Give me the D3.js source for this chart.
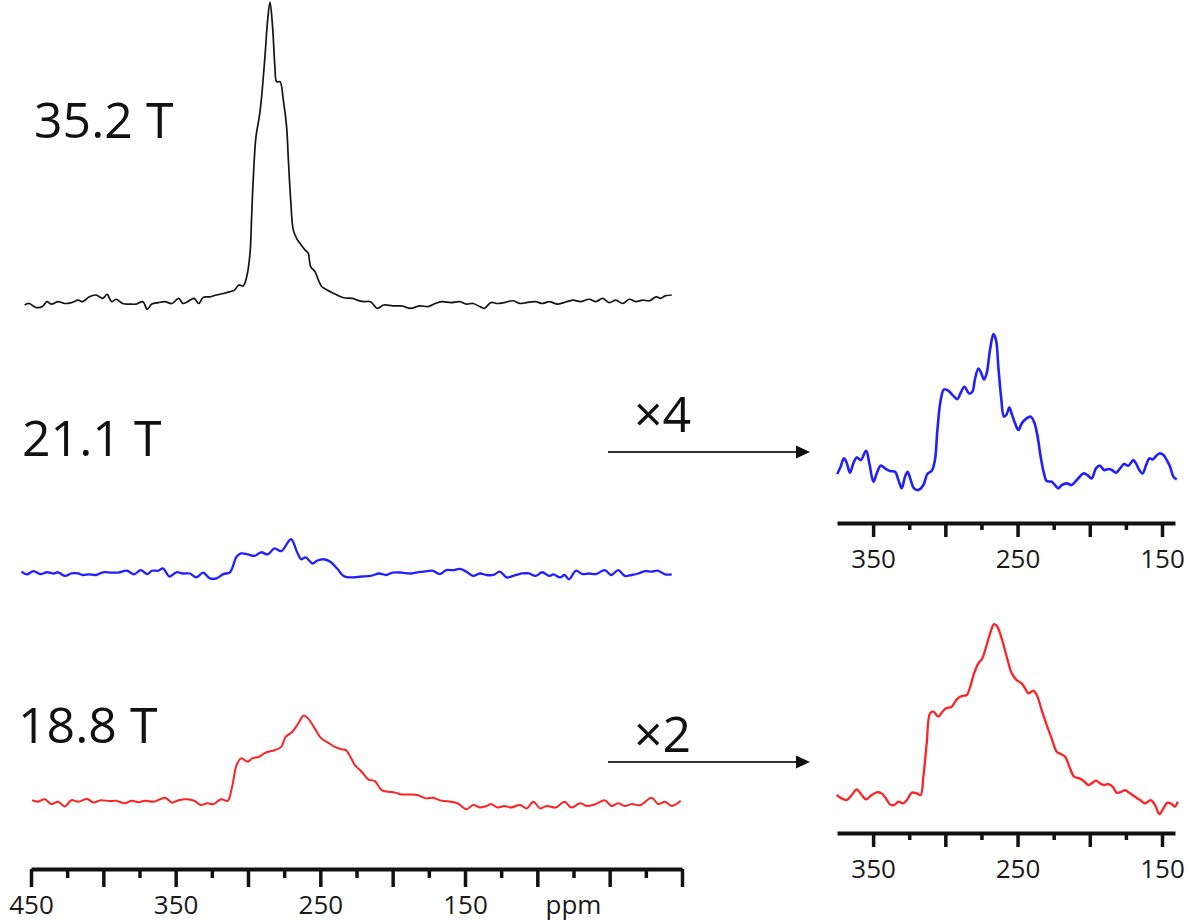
<!DOCTYPE html>
<html>
<head>
<meta charset="utf-8">
<script src="https://cdn.jsdelivr.net/npm/d3@7"></script>
<style>
  body { margin: 0; background: #fff; }
  text { font-family: "Open Sans", sans-serif; }
</style>
</head>
<body>
<svg id="chart" width="1200" height="923"></svg>
<script>
// spectra as [ppm, intensity]; intensity in units where the 35.2 T peak = 100
var black = [
  [454.4,0],[451.3,0.5],[446.7,-0.8],[442.1,-0.5],[439.0,1.1],[435.9,0.3],[431.3,1.1],[426.7,0.5],
  [422.0,0.8],[417.4,1.6],[414.3,1.1],[409.7,2.7],[405.1,3.3],[400.4,2.2],[397.4,3.5],[394.3,1.1],
  [391.2,1.9],[386.6,0.5],[381.9,0.3],[377.3,0.3],[372.7,1.1],[369.6,-1.4],[366.5,0.3],[361.9,0.8],
  [357.3,1.1],[352.6,0.5],[348.0,2.2],[344.9,0.5],[341.8,1.1],[337.2,2.2],[334.1,0.5],[331.0,2.5],
  [326.4,2.7],[321.8,3.3],[317.1,3.8],[312.5,4.4],[309.4,4.9],[306.4,6.6],[303.3,6.3],[300.9,9.3],
  [298.6,17.1],[297.5,29.1],[296.4,41.3],[294.5,55.5],[292.2,62.1],[290.6,68.7],[288.3,81.9],
  [286.4,94.1],[284.8,100],[283.0,91.8],[281.4,78.6],[280.2,73.7],[277.9,73.7],[275.6,67.7],
  [273.3,58.8],[272.2,48.9],[270.5,34.7],[268.7,24.8],[266.4,22.0],[264.1,20.4],[260.6,18.2],
  [258.4,17.1],[256.7,12.7],[253.7,11.0],[251.4,8.3],[249.1,6.1],[245.6,5.0],[241.1,3.9],[238.5,3.3],
  [233.9,2.4],[227.7,2.2],[224.6,1.6],[220.0,1.1],[215.3,1.1],[210.7,-1.1],[206.1,0],[199.9,-0.3],
  [193.8,-0.3],[187.6,-1.1],[181.4,-0.3],[175.2,-0.5],[170.6,0.5],[166.0,1.1],[159.8,0.8],[153.6,1.1],
  [149.0,0.3],[144.4,0.5],[139.8,-0.5],[136.7,-1.1],[132.1,0.8],[127.4,0.5],[122.8,0.8],[116.6,1.4],
  [112.0,0.5],[107.4,0.8],[101.2,1.1],[96.6,0.5],[91.9,1.1],[85.8,0.3],[79.6,1.1],[75.0,1.6],
  [70.3,1.1],[64.2,1.9],[59.5,1.1],[55.0,2.2],[50.3,0.8],[45.7,1.6],[41.0,0.5],[36.4,1.9],
  [31.8,1.1],[27.2,1.6],[22.5,1.4],[17.9,2.7],[14.8,2.2],[11.7,3.0],[7.1,3.3]
];

var blueMain = [
  [456.6,1.1],[452.9,0.2],[448.3,1.3],[443.6,0.3],[439.0,0.9],[434.4,0.5],[431.3,0.9],[426.7,-0.3],
  [422.0,0.5],[417.4,0.5],[414.3,0],[409.7,0.2],[405.1,0],[400.4,0.9],[394.3,0.8],[389.6,0.8],
  [383.5,1.4],[378.9,0.2],[374.2,1.6],[369.6,0.3],[366.5,1.4],[361.9,1.4],[358.8,2.2],[354.2,-0.5],
  [349.5,0.9],[345.0,0.5],[340.3,0.5],[335.7,-0.8],[331.0,0.8],[326.4,-1.1],[321.8,-1.1],[317.1,0.3],
  [312.5,0.9],[307.9,6.0],[304.8,7.1],[300.2,6.8],[295.6,6.3],[290.9,7.5],[286.3,6.8],[281.7,8.8],
  [277.0,7.9],[270.3,11.8],[266.2,7.7],[263.2,5.2],[260.1,5.8],[255.4,3.8],[252.4,4.7],[247.7,5.2],
  [243.1,4.4],[238.5,2.2],[233.9,-0.3],[227.7,-0.8],[221.5,-0.5],[215.3,-0.3],[209.2,0.5],[204.5,0],
  [200.0,0.8],[193.8,0.8],[187.6,0.5],[183.0,0.9],[178.3,1.1],[172.2,1.4],[167.5,0.3],[162.9,1.6],
  [158.3,1.6],[153.6,2.0],[149.0,1.1],[144.4,-0.3],[139.8,0.5],[135.1,0],[130.5,0],[125.9,1.1],
  [121.2,-0.8],[116.6,-0.3],[110.5,0.5],[105.8,0.5],[101.2,-0.3],[96.6,0.9],[91.9,-0.3],[88.9,0.2],
  [84.2,-0.8],[81.2,0],[78.1,-1.4],[73.4,1.4],[68.8,0.3],[64.2,0.5],[59.5,0.3],[53.4,1.6],
  [48.8,0],[44.1,1.6],[39.5,-0.3],[34.9,0],[30.2,0.5],[25.6,1.3],[21.0,1.1],[16.4,1.4],
  [11.7,0.2],[7.1,0.2]
];

var redMain = [
  [449.2,0.5],[445.2,0],[440.5,0.8],[435.9,-0.8],[431.3,0],[426.7,-1.6],[422.0,0.5],[417.4,0],
  [411.2,0.9],[406.6,-0.3],[402.0,0.5],[395.8,0.2],[391.2,0.3],[385.0,-0.5],[380.4,0.3],[375.8,-0.2],
  [371.1,0.3],[365.0,0],[357.3,1.3],[352.6,-0.3],[348.0,0.5],[341.8,0.8],[337.2,0.3],[332.6,-1.1],
  [328.0,-0.5],[323.9,-0.8],[318.7,0.8],[314.1,0.3],[311.0,4.9],[307.9,12.1],[304.8,14.3],[300.2,13.2],
  [297.1,14.3],[292.5,14.8],[287.8,16.2],[281.7,17.0],[277.0,18.1],[274.0,21.4],[269.3,23.1],
  [265.3,25.8],[261.6,28.4],[258.5,27.5],[253.9,24.2],[249.3,20.9],[244.7,19.5],[240.0,18.1],
  [235.4,17.3],[232.3,17.0],[229.2,14.8],[226.1,12.1],[221.5,9.9],[216.9,7.4],[212.3,6.8],[207.6,3.8],
  [203.0,3.3],[198.4,3.0],[193.8,2.4],[187.6,2.4],[183.0,2.2],[176.8,1.1],[172.2,1.3],[166.0,0.3],
  [159.8,0],[155.2,-0.5],[149.0,-2.5],[144.4,-1.1],[139.8,-1.9],[135.1,-1.4],[132.1,-0.8],[127.4,-1.9],
  [122.8,-1.4],[118.2,-1.9],[112.0,-1.1],[107.4,-2.2],[102.7,0],[98.1,-2.2],[93.5,-1.4],[87.3,-1.9],
  [81.2,0],[76.5,-1.9],[70.3,-0.5],[65.7,-1.4],[59.5,-0.8],[53.4,0.5],[48.8,-1.4],[44.1,-0.5],
  [39.5,-1.4],[34.9,-0.8],[28.7,-1.1],[21.0,1.3],[16.4,-0.8],[11.7,0],[7.1,-1.4],[0.9,0.3]
];

var blueInset = [
  [374.8,0.22],[372.5,0.82],[370.2,1.51],[368.3,1.15],[366.0,0.33],[363.7,1.10],[361.4,1.59],
  [358.6,1.37],[354.9,2.14],[352.6,1.10],[349.8,-0.41],[347.5,0.27],[344.8,0.91],[341.8,0.69],
  [338.3,0.47],[334.8,0.41],[332.5,-0.27],[330.2,-0.96],[327.9,0],[326.1,0.41],[324.0,-0.27],
  [321.7,-0.96],[318.7,-1.10],[315.2,-0.69],[312.5,0.22],[309.4,0.49],[307.2,1.37],[305.5,3.85],
  [303.2,6.32],[300.9,7.20],[297.9,7.09],[294.9,6.73],[291.7,6.40],[289.8,6.81],[286.8,7.42],
  [283.6,6.87],[281.3,7.01],[279.4,8.10],[277.1,8.93],[275.5,8.65],[273.2,8.02],[271.4,8.52],
  [269.1,10.44],[266.7,11.76],[264.9,11.26],[263.3,9.07],[261.4,6.59],[259.4,4.95],[257.5,5.16],
  [255.7,5.71],[254.1,5.22],[251.7,4.40],[249.4,3.85],[247.1,4.40],[243.7,4.81],[240.9,4.95],
  [238.6,4.53],[236.3,3.43],[234.0,1.65],[231.7,0.27],[229.8,-0.36],[226.4,-0.41],[224.1,-0.69],
  [221.7,-0.96],[219.4,-0.69],[216.0,-0.55],[212.5,-0.69],[209.0,-0.27],[204.4,0.27],[201.7,0.14],
  [198.7,-0.14],[195.7,0.69],[192.9,0.91],[190.1,0.55],[187.1,0.63],[184.8,0.55],[181.8,0.33],
  [179.0,0.69],[176.3,1.04],[173.3,0.91],[169.8,1.37],[168.0,1.10],[165.7,0.55],[163.4,0.27],
  [161.0,0.96],[158.7,1.51],[156.4,1.43],[154.1,1.70],[151.8,1.92],[149.0,1.79],[146.7,1.37],
  [144.4,0.82],[142.1,0],[139.8,-0.22]
];

var redInset = [
  [375.2,0.28],[371.8,-0.28],[368.3,-0.55],[364.8,0.28],[361.4,1.21],[357.9,0.28],[354.9,-0.44],
  [351.0,0.28],[347.5,0.72],[344.1,0.55],[341.1,-0.28],[338.3,-1.27],[335.5,-1.38],[332.5,-0.83],
  [329.1,-1.10],[326.3,-0.44],[323.3,0.66],[319.8,0.55],[317.1,0.28],[315.2,3.30],[312.9,8.80],
  [310.6,13.75],[308.3,14.03],[304.8,13.20],[302.5,13.86],[299.5,14.58],[295.6,14.85],[292.1,16.06],
  [288.7,16.61],[285.2,16.78],[282.9,18.04],[280.1,20.35],[277.1,22.00],[274.4,22.83],[271.4,25.03],
  [268.6,27.23],[266.3,28.49],[264.0,28.05],[261.0,26.13],[257.5,23.10],[254.0,20.35],[250.6,19.25],
  [247.1,18.70],[244.8,17.88],[242.5,17.05],[239.1,17.49],[236.7,16.78],[233.3,14.30],[229.8,11.83],
  [226.4,9.63],[222.9,7.43],[220.1,7.04],[217.1,6.60],[213.7,4.68],[210.9,3.30],[207.2,3.03],
  [204.4,2.64],[201.0,1.93],[198.7,2.20],[195.7,2.64],[192.9,2.20],[190.1,1.93],[187.1,2.09],
  [184.1,1.65],[181.4,0.66],[177.9,0.83],[175.6,1.10],[172.1,0.55],[168.7,0],[165.2,-0.55],
  [161.7,-1.10],[157.8,-0.55],[154.8,-1.38],[151.8,-2.86],[149.0,-1.93],[146.3,-0.99],[143.3,-1.21],
  [141.0,-1.65],[139.1,-0.83]
];

var fieldLabels = ["35.2 T", "21.1 T", "18.8 T"];
var zoomLabels = ["\u00d74", "\u00d72"];
var zoomFactors = [4, 2];

var mainMajor = [450, 400, 350, 300, 250, 200, 150, 100, 50, 0];
var mainMinor = [425, 375, 325, 275, 225, 175, 125, 75, 25];
var mainLabels = [450, 350, 250, 150];
var insetMajor = [350, 300, 250, 200, 150];
var insetMinor = [325, 275, 225, 175];
var insetLabels = [350, 250, 150];

var svg = d3.select("#chart");

var xMain = d3.scaleLinear().domain([450, 0]).range([31, 682]);
var xInset = d3.scaleLinear().domain([375, 141]).range([837, 1175]);
var pxPerUnit = 3.03;

function yScale(base, factor) {
  return d3.scaleLinear().domain([0, 100]).range([base, base - 100 * pxPerUnit * factor]);
}

var traces = [
  { data: black, x: xMain, y: yScale(305, 1), color: "#141414", width: 1.7 },
  { data: blueMain, x: xMain, y: yScale(575, 1), color: "#2020ff", width: 2.3 },
  { data: redMain, x: xMain, y: yScale(801.7, 1), color: "#ff2222", width: 2 },
  { data: blueInset, x: xInset, y: yScale(476.7, zoomFactors[0]), color: "#2020ff", width: 2.6 },
  { data: redInset, x: xInset, y: yScale(796.7, zoomFactors[1]), color: "#ff2222", width: 2.3 }
];

traces.forEach(function (t) {
  var line = d3.line()
    .x(function (d) { return t.x(d[0]); })
    .y(function (d) { return t.y(d[1]); })
    .curve(d3.curveCatmullRom.alpha(0.5));
  svg.append("path")
    .datum(t.data)
    .attr("d", line)
    .attr("fill", "none")
    .attr("stroke", t.color)
    .attr("stroke-width", t.width)
    .attr("stroke-linejoin", "round");
});

// axes: major ticks with labels, minor ticks without
function drawAxis(scale, y, majors, minors, labels, majorLen, minorLen) {
  var g = svg.append("g").attr("transform", "translate(0," + y + ")");
  g.append("g")
    .call(d3.axisBottom(scale).tickValues(minors).tickSize(minorLen).tickFormat(""))
    .call(function (s) { s.select(".domain").remove(); });
  g.append("g")
    .call(d3.axisBottom(scale)
      .tickValues(majors)
      .tickSize(majorLen)
      .tickSizeOuter(0)
      .tickFormat(function (d) { return labels.indexOf(d) >= 0 ? d : ""; }));
  g.selectAll(".domain").attr("stroke", "#111").attr("stroke-width", 4);
  g.selectAll(".tick line").attr("stroke", "#111").attr("stroke-width", 3.5);
  g.selectAll(".tick text")
    .attr("y", 45)
    .attr("dy", 0)
    .attr("fill", "#1a1a1a")
    .style("font-size", "26px")
    .style("font-family", "'Open Sans', sans-serif");
  return g;
}

var mainAxis = drawAxis(xMain, 869, mainMajor, mainMinor, mainLabels, 18, 9);
mainAxis.append("text")
  .attr("x", xMain(75))
  .attr("y", 45)
  .attr("text-anchor", "middle")
  .attr("fill", "#1a1a1a")
  .style("font-size", "26px")
  .text("ppm");

drawAxis(xInset, 523, insetMajor, insetMinor, insetLabels, 14, 7);
drawAxis(xInset, 833, insetMajor, insetMinor, insetLabels, 14, 7);

// field labels
var fieldPos = [[34, 138], [22, 456], [18, 743]];
svg.selectAll(".fieldLabel")
  .data(fieldLabels)
  .enter()
  .append("text")
  .attr("class", "fieldLabel")
  .attr("x", function (d, i) { return fieldPos[i][0]; })
  .attr("y", function (d, i) { return fieldPos[i][1]; })
  .attr("fill", "#111")
  .style("font-size", "50px")
  .text(function (d) { return d; });

// zoom factor labels with arrows
var arrowY = [452, 762];
var zoomLabelY = [432, 752];
zoomLabels.forEach(function (lab, i) {
  var y = arrowY[i];
  svg.append("text")
    .attr("x", 634)
    .attr("y", zoomLabelY[i])
    .attr("fill", "#111")
    .style("font-size", "50px")
    .text(lab);
  svg.append("line")
    .attr("x1", 608).attr("x2", 798)
    .attr("y1", y).attr("y2", y)
    .attr("stroke", "#333")
    .attr("stroke-width", 2);
  svg.append("path")
    .attr("d", "M810," + y + "L796," + (y - 6.5) + "L796," + (y + 6.5) + "Z")
    .attr("fill", "#111");
});
</script>
</body>
</html>
